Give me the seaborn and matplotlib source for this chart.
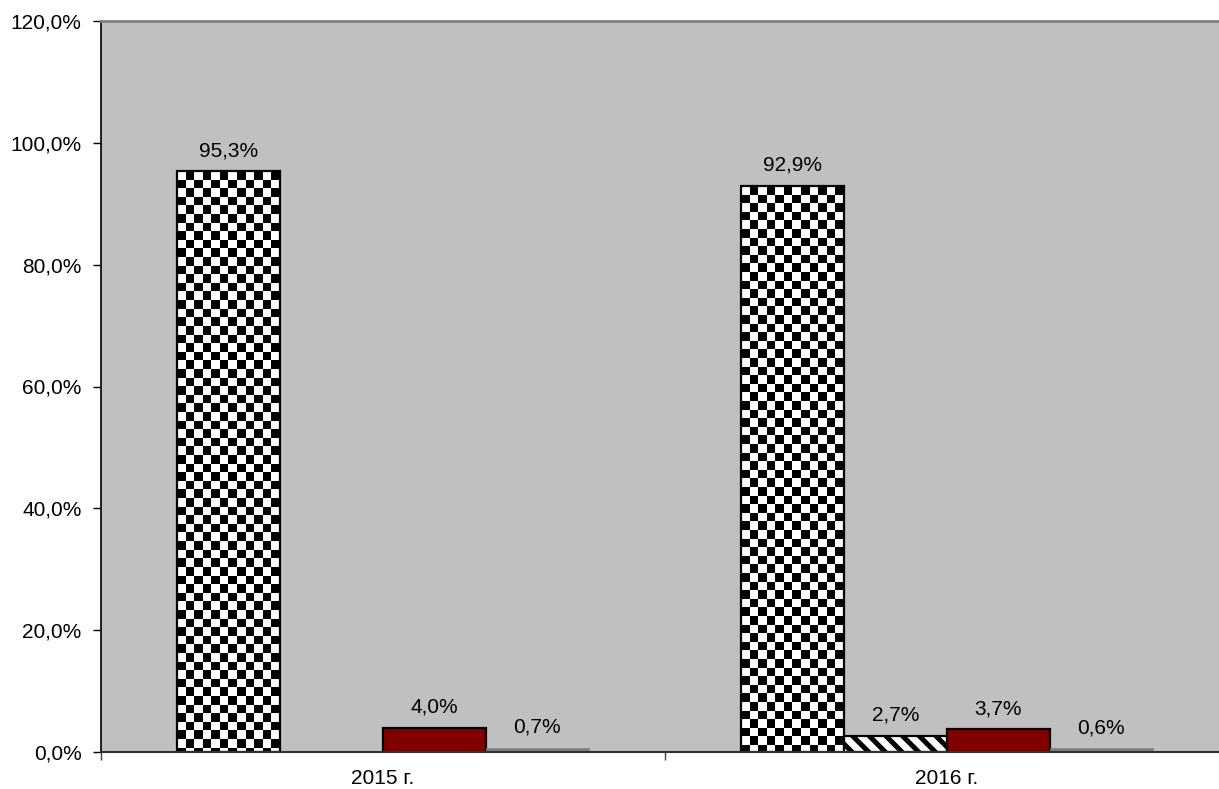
import numpy as np
import pandas as pd
import matplotlib
matplotlib.use("Agg")
import matplotlib.pyplot as plt
import seaborn as sns

# ── data ─────────────────────────────────────────────────────
years = ["2015 г.", "2016 г."]
series = ["Ряд 1", "Ряд 2", "Ряд 3", "Ряд 4"]
values_2015 = [95.3, np.nan, 4.0, 0.7]
values_2016 = [92.9, 2.7, 3.7, 0.6]
y_ticks = [0, 20, 40, 60, 80, 100, 120]

df = pd.DataFrame({
    "year": [years[0]] * 4 + [years[1]] * 4,
    "series": series * 2,
    "value": values_2015 + values_2016,
})

sns.set_style("ticks")
plt.rcParams["font.family"] = ["Liberation Sans", "DejaVu Sans"]
plt.rcParams["hatch.linewidth"] = 3.6
plt.rcParams["text.color"] = "black"
plt.rcParams["xtick.color"] = "black"
plt.rcParams["ytick.color"] = "black"

BG = "#C0C0C0"
FS = 15
palette = {"Ряд 1": "white", "Ряд 2": "white", "Ряд 3": "#800000", "Ряд 4": "#808080"}

fig = plt.figure(figsize=(12.19, 7.89), dpi=100)
ax = fig.add_axes([101 / 1219, 1 - 752 / 789, (1229 - 101) / 1219, (752 - 21) / 789])
ax.set_facecolor(BG)

sns.barplot(data=df, x="year", y="value", hue="series", hue_order=series,
            order=years, palette=palette, saturation=1, width=0.73, gap=0,
            edgecolor="black", linewidth=1.6, legend=False, ax=ax, errorbar=None)

# styling per series
cell_h = 120 / 731 * 8.6  # checker cell height in data units
for i, cont in enumerate(ax.containers):
    for p in cont.patches:
        if i == 0:
            # checkerboard fill clipped to the bar
            x0, w, h = p.get_x(), p.get_width(), p.get_height()
            nx = 12
            ny = int(np.ceil(h / cell_h))
            board = (np.add.outer(np.arange(ny), np.arange(nx)) % 2).astype(float)
            img = ax.imshow(board, cmap="gray_r", interpolation="nearest",
                            extent=(x0, x0 + w, h - ny * cell_h, h),
                            origin="upper", aspect="auto", zorder=0.5)
            img.set_clip_path(p)
            p.set_facecolor("none")
        elif i == 1:
            p.set_hatch("\\\\")
            p.set_facecolor("white")
        elif i == 3:
            p.set_edgecolor("#808080")
            p.set_linewidth(0.5)

    ax.bar_label(cont, labels=[f"{v:.1f}%".replace(".", ",") for v in cont.datavalues],
                 padding=8, fontsize=FS, color="black")

ax.set_xlim(-0.5, 1.5)
ax.set_ylim(0, 120)
ax.set_yticks(y_ticks)
ax.set_yticklabels([f"{v:.1f}%".replace(".", ",") for v in y_ticks], fontsize=FS)
ax.tick_params(axis="y", length=6, width=1, color="black", pad=8)

# x ticks: labels at category centres, marks at boundaries
ax.tick_params(axis="x", which="major", length=0, pad=12, labelsize=FS)
ax.set_xticks([-0.5, 0.5, 1.5], minor=True)
ax.tick_params(axis="x", which="minor", length=6, width=1, color="#404040")

ax.set_xlabel("")
ax.set_ylabel("")

ax.spines["left"].set_color("black")
ax.spines["left"].set_linewidth(1.2)
ax.spines["bottom"].set_color("#303030")
ax.spines["bottom"].set_linewidth(1.5)
ax.spines["top"].set_visible(True)
ax.spines["top"].set_color("#808080")
ax.spines["top"].set_linewidth(2)
ax.spines["right"].set_visible(False)

fig.savefig("out.png", dpi=100)
